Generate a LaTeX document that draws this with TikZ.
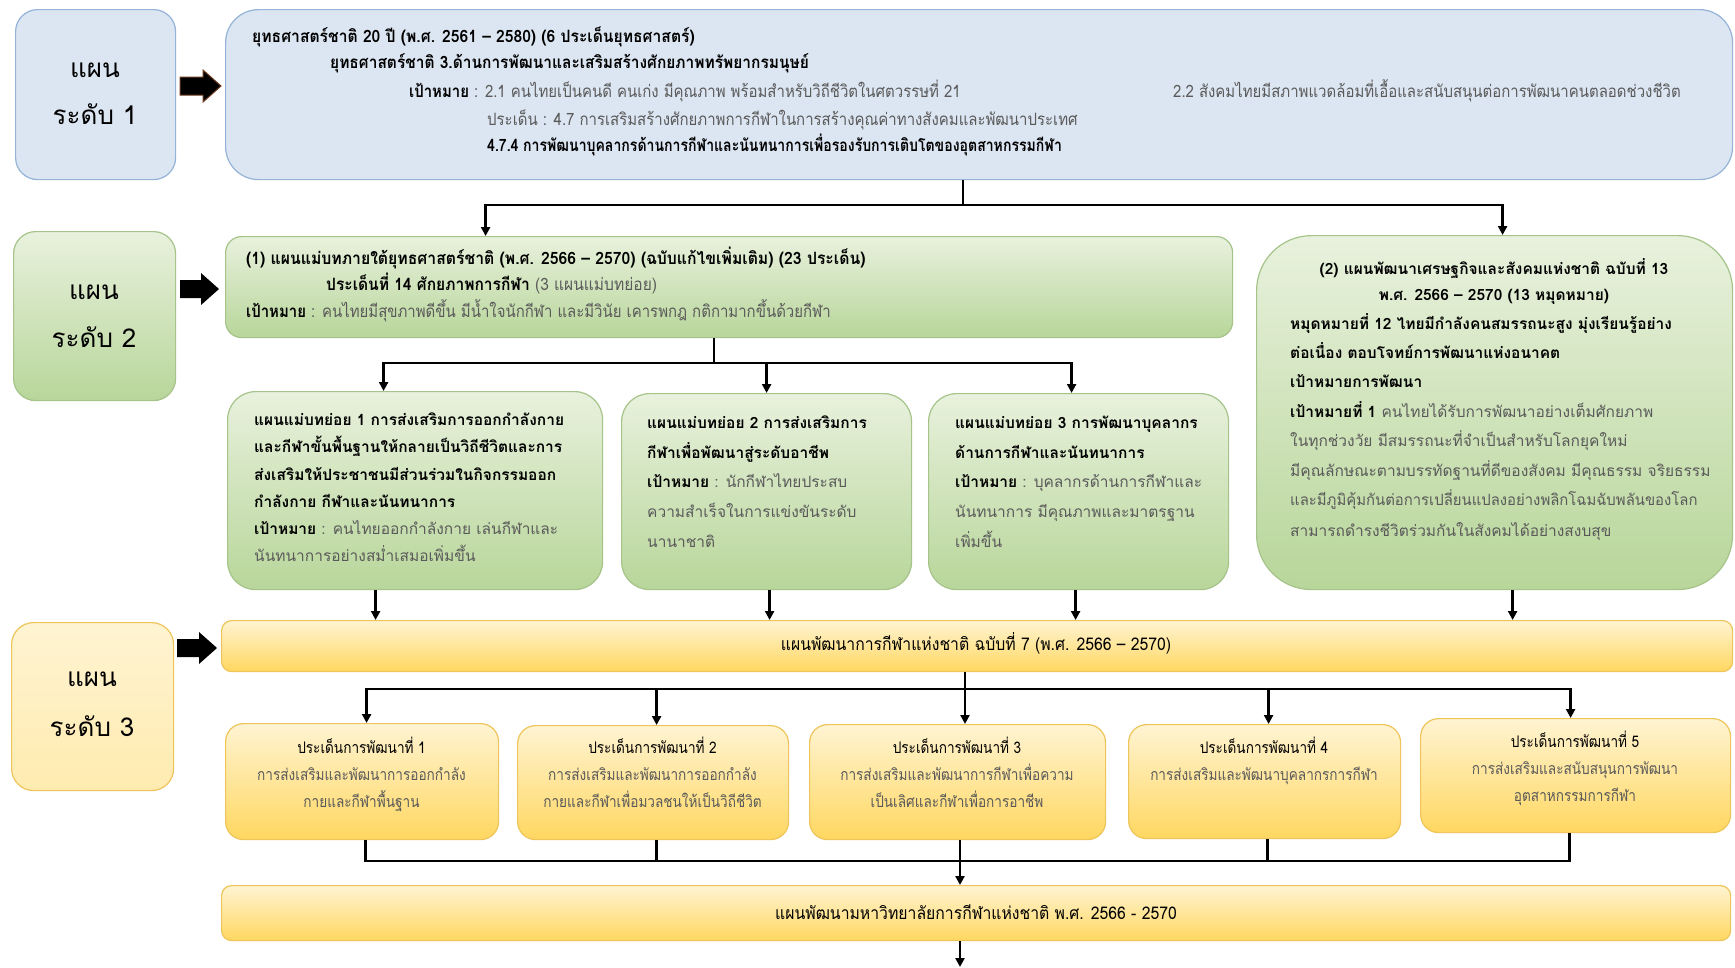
\documentclass[tikz,border=0pt]{standalone}
\usepackage{fontspec}
\usetikzlibrary{arrows.meta,calc}
\newfontfamily\thw[Script=Thai]{Loma}
\newfontfamily\thc[Script=Thai,FakeStretch=0.88]{Loma}
\newfontfamily\thcb[Script=Thai,FakeStretch=0.9]{Loma}
\newfontfamily\thcp[Script=Thai,FakeStretch=0.85]{Loma}
\newcommand\cF{\thc\fontsize{17}{20}\selectfont}
\newcommand\bF{\thcb\fontsize{17.5}{20}\selectfont}
\newcommand\pF{\thcp\fontsize{16}{19}\selectfont}
\newcommand\wF{\thw\fontsize{15.5}{18}\selectfont}
\newcommand\lF{\thw\fontsize{26}{30}\selectfont}
\definecolor{tgray}{HTML}{5A5A5A}
\definecolor{bluefill}{HTML}{DCE6F2}
\definecolor{blueline}{HTML}{95B3D7}
\definecolor{greentop}{HTML}{E8F1DD}
\definecolor{greenbot}{HTML}{B8D69A}
\definecolor{greenline}{HTML}{A6C48A}
\definecolor{yeltop}{HTML}{FFF4D2}
\definecolor{yelbot}{HTML}{FFD760}
\definecolor{yelline}{HTML}{EEC55A}
\definecolor{arrbrown}{HTML}{6B3A1E}
\tikzset{
  bluebox/.style={draw=blueline, line width=1.2pt, fill=bluefill, anchor=north west, inner sep=0pt},
  greenbox/.style={draw=greenline, line width=1.2pt, top color=greentop, bottom color=greenbot, anchor=north west, inner sep=0pt},
  yelbox/.style={draw=yelline, line width=1.2pt, top color=yeltop, bottom color=yelbot, anchor=north west, inner sep=0pt},
  tl/.style={anchor=base west, inner sep=0pt},
  tc/.style={anchor=base, inner sep=0pt},
  conn/.style={line width=2.6pt, black},
  arr/.style={line width=2.6pt, black, -{Triangle[length=9pt,width=9pt]}},
}
\begin{document}
\begin{tikzpicture}[x=1pt,y=-1pt]
\fill[white] (0,0) rectangle (1735,967);
\useasboundingbox (0,0) rectangle (1735,967);

% ---------- level 1 ----------
\node[bluebox, rounded corners=22pt, minimum width=160pt, minimum height=170pt] (lab1) at (15,9) {};
\node[tc, font=\lF] (lab1a) at (95,77) {แผน};
\node[tc, font=\lF] (lab1b) at (95,124) {ระดับ 1};
\filldraw[fill=black, draw=arrbrown, line width=1pt] (180,77) -- (203,77) -- (203,70) -- (221,86) -- (203,102) -- (203,95) -- (180,95) -- cycle;
\node[bluebox, rounded corners=33pt, minimum width=1507pt, minimum height=170pt] (m1) at (225,9) {};
\node[tl, font=\cF\bfseries] (t1a) at (252,42) {\scalebox{1.047}[1]{ยุทธศาสตร์ชาติ 20 ปี (พ.ศ. 2561 – 2580) (6 ประเด็นยุทธศาสตร์)}};
\node[tl, font=\cF\bfseries] (t1b) at (330,68) {\scalebox{1.036}[1]{ยุทธศาสตร์ชาติ 3.ด้านการพัฒนาและเสริมสร้างศักยภาพทรัพยากรมนุษย์}};
\node[tl, font=\cF] (t1c) at (409,97) {\textbf{เป้าหมาย} \textcolor{tgray}{: 2.1 คนไทยเป็นคนดี คนเก่ง มีคุณภาพ พร้อมสำหรับวิถีชีวิตในศตวรรษที่ 21}};
\node[tl, font=\cF, text=tgray] (t1d) at (1173,97) {2.2 สังคมไทยมีสภาพแวดล้อมที่เอื้อและสนับสนุนต่อการพัฒนาคนตลอดช่วงชีวิต};
\node[tl, font=\cF, text=tgray] (t1e) at (487,125) {ประเด็น : 4.7 การเสริมสร้างศักยภาพการกีฬาในการสร้างคุณค่าทางสังคมและพัฒนาประเทศ};
\node[tl, font=\cF\bfseries] (t1f) at (487,151) {\scalebox{0.94}[1]{4.7.4 การพัฒนาบุคลากรด้านการกีฬาและนันทนาการเพื่อรองรับการเติบโตของอุตสาหกรรมกีฬา}};

% ---------- level 2 ----------
\node[greenbox, rounded corners=22pt, minimum width=162pt, minimum height=169pt] (lab2) at (13,231) {};
\node[tc, font=\lF] (lab2a) at (94,299) {แผน};
\node[tc, font=\lF] (lab2b) at (94,347) {ระดับ 2};
\fill[black] (180,280) -- (201,280) -- (201,273) -- (219,289) -- (201,305) -- (201,298) -- (180,298) -- cycle;
\node[greenbox, rounded corners=16pt, minimum width=1007pt, minimum height=101pt] (l2a) at (225,236) {};
\node[tl, font=\cF\bfseries] (t2a) at (246,264) {\scalebox{1.053}[1]{(1) แผนแม่บทภายใต้ยุทธศาสตร์ชาติ (พ.ศ. 2566 – 2570) (ฉบับแก้ไขเพิ่มเติม) (23 ประเด็น)}};
\node[tl, font=\cF] (t2b) at (326,290) {\scalebox{1.04}[1]{\textbf{ประเด็นที่ 14 ศักยภาพการกีฬา} \textcolor{tgray}{(3 แผนแม่บทย่อย)}}};
\node[tl, font=\cF] (t2c) at (246,317) {\textbf{เป้าหมาย} \textcolor{tgray}{: คนไทยมีสุขภาพดีขึ้น มีน้ำใจนักกีฬา และมีวินัย เคารพกฎ กติกามากขึ้นด้วยกีฬา}};

\node[greenbox, rounded corners=55pt, minimum width=476pt, minimum height=354pt] (l2b) at (1256,235) {};
\node[tc, font=\wF\bfseries] (r1) at (1494,274) {(2) แผนพัฒนาเศรษฐกิจและสังคมแห่งชาติ ฉบับที่ 13};
\node[tc, font=\wF\bfseries] (r2) at (1494,300) {พ.ศ. 2566 – 2570 (13 หมุดหมาย)};
\node[tl, font=\wF\bfseries] (r3) at (1290,329) {หมุดหมายที่ 12 ไทยมีกำลังคนสมรรถนะสูง มุ่งเรียนรู้อย่าง};
\node[tl, font=\wF\bfseries] (r4) at (1290,358) {ต่อเนื่อง ตอบโจทย์การพัฒนาแห่งอนาคต};
\node[tl, font=\wF\bfseries] (r5) at (1290,387) {เป้าหมายการพัฒนา};
\node[tl, font=\wF] (r6) at (1290,417) {\textbf{เป้าหมายที่ 1} \textcolor{tgray}{คนไทยได้รับการพัฒนาอย่างเต็มศักยภาพ}};
\node[tl, font=\wF, text=tgray] (r7) at (1290,446) {ในทุกช่วงวัย มีสมรรถนะที่จำเป็นสำหรับโลกยุคใหม่};
\node[tl, font=\wF, text=tgray] (r8) at (1290,476) {มีคุณลักษณะตามบรรทัดฐานที่ดีของสังคม มีคุณธรรม จริยธรรม};
\node[tl, font=\wF, text=tgray] (r9) at (1290,505) {\scalebox{0.96}[1]{และมีภูมิคุ้มกันต่อการเปลี่ยนแปลงอย่างพลิกโฉมฉับพลันของโลก}};
\node[tl, font=\wF, text=tgray] (r10) at (1290,536) {สามารถดำรงชีวิตร่วมกันในสังคมได้อย่างสงบสุข};

\node[greenbox, rounded corners=28pt, minimum width=375pt, minimum height=198pt] (s1) at (227,391) {};
\node[tl, font=\wF\bfseries] (s1a) at (254,425) {แผนแม่บทย่อย 1 การส่งเสริมการออกกำลังกาย};
\node[tl, font=\wF\bfseries] (s1b) at (254,452) {และกีฬาขั้นพื้นฐานให้กลายเป็นวิถีชีวิตและการ};
\node[tl, font=\wF\bfseries] (s1c) at (254,480) {ส่งเสริมให้ประชาชนมีส่วนร่วมในกิจกรรมออก};
\node[tl, font=\wF\bfseries] (s1d) at (254,507) {กำลังกาย กีฬาและนันทนาการ};
\node[tl, font=\wF] (s1e) at (254,534) {\textbf{เป้าหมาย} \textcolor{tgray}{: คนไทยออกกำลังกาย เล่นกีฬาและ}};
\node[tl, font=\wF, text=tgray] (s1f) at (254,561) {นันทนาการอย่างสม่ำเสมอเพิ่มขึ้น};

\node[greenbox, rounded corners=28pt, minimum width=290pt, minimum height=196pt] (s2) at (621,393) {};
\node[tl, font=\wF\bfseries] (s2a) at (647,428) {แผนแม่บทย่อย 2 การส่งเสริมการ};
\node[tl, font=\wF\bfseries] (s2b) at (647,458) {กีฬาเพื่อพัฒนาสู่ระดับอาชีพ};
\node[tl, font=\wF] (s2c) at (647,487) {\textbf{เป้าหมาย} \textcolor{tgray}{: นักกีฬาไทยประสบ}};
\node[tl, font=\wF, text=tgray] (s2d) at (647,517) {ความสำเร็จในการแข่งขันระดับ};
\node[tl, font=\wF, text=tgray] (s2e) at (647,547) {นานาชาติ};

\node[greenbox, rounded corners=28pt, minimum width=300pt, minimum height=196pt] (s3) at (928,393) {};
\node[tl, font=\wF\bfseries] (s3a) at (955,428) {แผนแม่บทย่อย 3 การพัฒนาบุคลากร};
\node[tl, font=\wF\bfseries] (s3b) at (955,458) {ด้านการกีฬาและนันทนาการ};
\node[tl, font=\wF] (s3c) at (955,487) {\textbf{เป้าหมาย} \textcolor{tgray}{: บุคลากรด้านการกีฬาและ}};
\node[tl, font=\wF, text=tgray] (s3d) at (955,517) {นันทนาการ มีคุณภาพและมาตรฐาน};
\node[tl, font=\wF, text=tgray] (s3e) at (955,547) {เพิ่มขึ้น};

% ---------- level 3 ----------
\node[yelbox, rounded corners=22pt, minimum width=162pt, minimum height=168pt, top color=yeltop, bottom color=yeltop!70!yelbot] (lab3) at (11,622) {};
\node[tc, font=\lF] (lab3a) at (92,686) {แผน};
\node[tc, font=\lF] (lab3b) at (92,736) {ระดับ 3};
\fill[black] (177,639) -- (199,639) -- (199,632) -- (217,648) -- (199,664) -- (199,657) -- (177,657) -- cycle;
\node[yelbox, rounded corners=10pt, minimum width=1511pt, minimum height=51pt] (bar3) at (221,620) {};
\node[tc, font=\bF] (bar3t) at (976,650) {แผนพัฒนาการกีฬาแห่งชาติ ฉบับที่ 7 (พ.ศ. 2566 – 2570)};

\node[yelbox, rounded corners=18pt, minimum width=273pt, minimum height=116pt] (p1) at (225,723) {};
\node[yelbox, rounded corners=18pt, minimum width=271pt, minimum height=114pt] (p2) at (517,725) {};
\node[yelbox, rounded corners=18pt, minimum width=296pt, minimum height=115pt] (p3) at (809,724) {};
\node[yelbox, rounded corners=18pt, minimum width=272pt, minimum height=114pt] (p4) at (1128,724) {};
\node[yelbox, rounded corners=18pt, minimum width=310pt, minimum height=114pt] (p5) at (1420,718) {};
\node[tc, font=\pF] (p1a) at (361.5,753) {ประเด็นการพัฒนาที่ 1};
\node[tc, font=\pF, text=tgray] (p1b) at (361.5,780) {การส่งเสริมและพัฒนาการออกกำลัง};
\node[tc, font=\pF, text=tgray] (p1c) at (361.5,807) {กายและกีฬาพื้นฐาน};
\node[tc, font=\pF] (p2a) at (652.5,753) {ประเด็นการพัฒนาที่ 2};
\node[tc, font=\pF, text=tgray] (p2b) at (652.5,780) {การส่งเสริมและพัฒนาการออกกำลัง};
\node[tc, font=\pF, text=tgray] (p2c) at (652.5,807) {กายและกีฬาเพื่อมวลชนให้เป็นวิถีชีวิต};
\node[tc, font=\pF] (p3a) at (957,753) {ประเด็นการพัฒนาที่ 3};
\node[tc, font=\pF, text=tgray] (p3b) at (957,780) {การส่งเสริมและพัฒนาการกีฬาเพื่อความ};
\node[tc, font=\pF, text=tgray] (p3c) at (957,807) {เป็นเลิศและกีฬาเพื่อการอาชีพ};
\node[tc, font=\pF] (p4a) at (1264,753) {ประเด็นการพัฒนาที่ 4};
\node[tc, font=\pF, text=tgray] (p4b) at (1264,780) {การส่งเสริมและพัฒนาบุคลากรการกีฬา};
\node[tc, font=\pF] (p5a) at (1575,747) {ประเด็นการพัฒนาที่ 5};
\node[tc, font=\pF, text=tgray] (p5b) at (1575,774) {การส่งเสริมและสนับสนุนการพัฒนา};
\node[tc, font=\pF, text=tgray] (p5c) at (1575,801) {อุตสาหกรรมการกีฬา};

\node[yelbox, rounded corners=10pt, minimum width=1509pt, minimum height=55pt] (bar4) at (221,885) {};
\node[tc, font=\bF] (bar4t) at (976,919) {แผนพัฒนามหาวิทยาลัยการกีฬาแห่งชาติ พ.ศ. 2566 - 2570};

% ---------- connectors ----------
\coordinate (j1) at (963,205);
\draw[conn] (m1.south -| j1) -- (j1);
\draw[arr] (j1) -| ([xshift=-243.5pt]l2a.north);
\draw[arr] (j1) -| ([xshift=8pt]l2b.north);

\coordinate (j2) at (714,363);
\draw[conn] (l2a.south -| j2) -- (j2);
\draw[arr] (j2) -| ([xshift=-31.5pt]s1.north);
\draw[arr] (j2) -| (s2.north);
\draw[arr] (j2) -| ([xshift=-7pt]s3.north);

\draw[arr] ([xshift=-39.5pt]s1.south) -- ([xshift=-39.5pt]s1.south |- bar3.north);
\draw[arr] ([xshift=3pt]s2.south) -- ([xshift=3pt]s2.south |- bar3.north);
\draw[arr] ([xshift=-3pt]s3.south) -- ([xshift=-3pt]s3.south |- bar3.north);
\draw[arr] ([xshift=18pt]l2b.south) -- ([xshift=18pt]l2b.south |- bar3.north);

\coordinate (j3) at (965,689);
\draw[conn] (bar3.south -| j3) -- (j3);
\draw[arr] (j3) -| ([xshift=4.5pt]p1.north);
\draw[arr] (j3) -| ([xshift=3.5pt]p2.north);
\draw[arr] (j3) -- (j3 |- p3.north);
\draw[arr] (j3) -| ([xshift=4pt]p4.north);
\draw[arr] (j3) -| ([xshift=-5pt]p5.north);

\coordinate (j4) at (960,861);
\draw[conn] ([xshift=3.5pt]p1.south) |- (j4);
\draw[conn] ([xshift=3.5pt]p2.south) |- (j4);
\draw[conn] (p3.south -| j4) -- (j4);
\draw[conn] ([xshift=3pt]p4.south) |- (j4);
\draw[conn] ([xshift=-6pt]p5.south) |- (j4);
\draw[arr] (j4) -- (j4 |- bar4.north);
\coordinate (bend) at (960,967);
\draw[arr] (bar4.south -| bend) -- (bend);
\end{tikzpicture}
\end{document}
